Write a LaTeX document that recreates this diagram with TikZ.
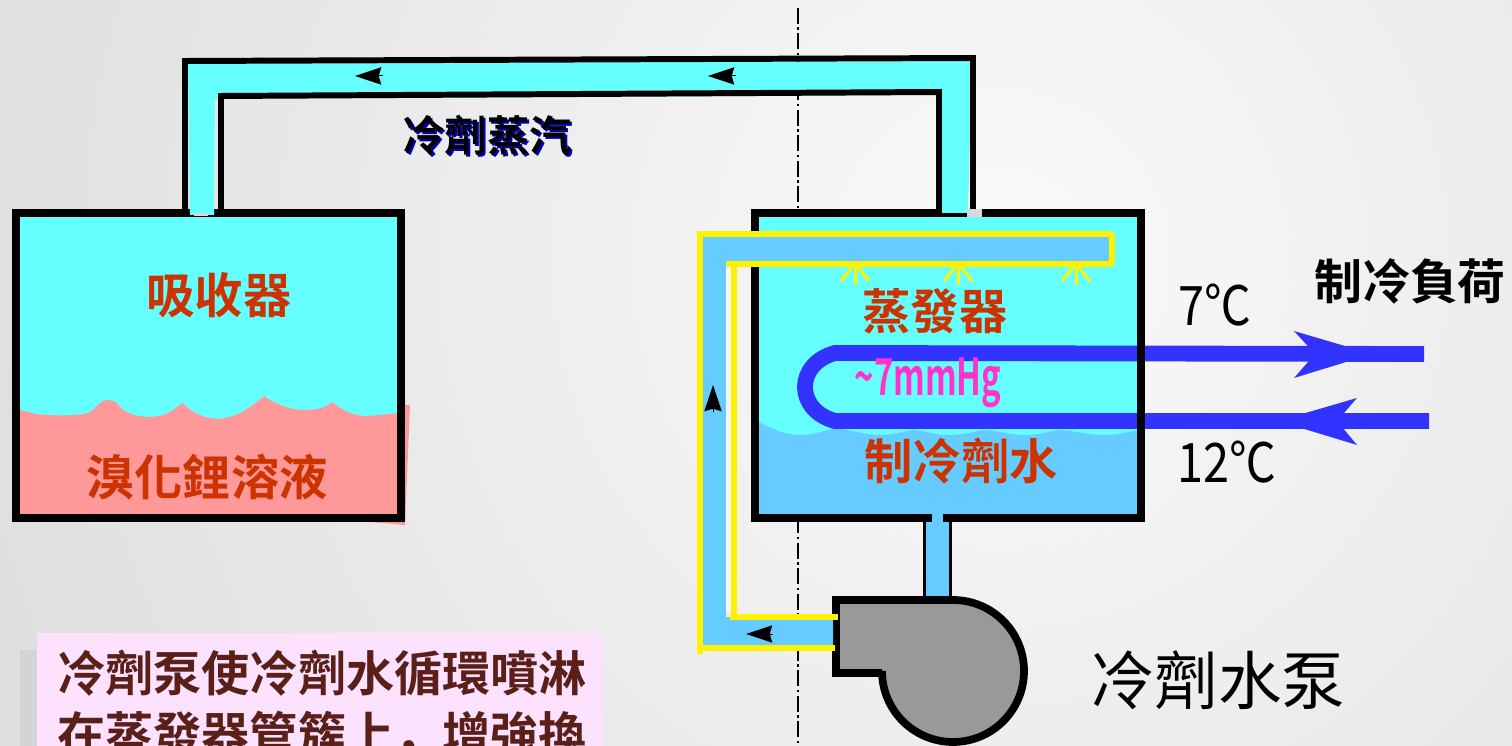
\documentclass[tikz,border=0pt]{standalone}
\usepackage{graphicx}
\usepackage{fontspec}
\setmainfont{Noto Sans CJK TC}[BoldFont={Noto Sans CJK TC Bold}]
\newfontfamily\punctfont{Noto Sans CJK SC Bold}
\usetikzlibrary{arrows.meta}
\definecolor{vaporcyan}{RGB}{102,255,255}
\definecolor{waterblue}{RGB}{102,204,255}
\definecolor{saltpink}{RGB}{255,153,153}
\definecolor{coilblue}{RGB}{51,51,255}
\definecolor{labelred}{RGB}{204,51,0}
\definecolor{notepink}{RGB}{252,226,255}
\definecolor{notebrown}{RGB}{90,32,24}
\definecolor{hgpink}{RGB}{255,51,204}
\tikzset{
  wall/.style={line width=4.4pt,draw=black,line join=miter},
  pipeline/.style={line width=3.4pt,draw=black},
  sprayline/.style={line width=3.4pt,draw=yellow},
  spraytip/.style={line width=1.7pt,draw=yellow},
  coilline/.style={line width=9pt,draw=coilblue},
  flowtip/.style={line width=0pt,-{Stealth[length=15pt,width=10pt,inset=1.5pt]}},
  coiltip/.style={fill=coilblue,draw=none},
  biglabel/.style={font=\fontsize{27.5}{27.5}\selectfont\bfseries,text=labelred,inner sep=0pt},
  notetext/.style={font=\fontsize{27.4}{27.4}\selectfont\bfseries,text=notebrown,inner sep=0pt,anchor=west}
}
\begin{document}
\begin{tikzpicture}[x=0.02cm,y=-0.02cm]
    \useasboundingbox (0,0) rectangle (1512,746);
    \clip (0,0) rectangle (1512,746);
    % background
    \fill[gray!15] (0,0) rectangle (1512,746);
    \shade[inner color=black!2,outer color=black!14] (1000,260) circle (1200);
    \draw[line width=0.9pt,dash pattern=on 9pt off 2pt on 1.5pt off 2pt] (798,8) -- (798,746);
    % absorber
    \fill[saltpink] (370,522) -- (405,525) -- (410,405) -- (400,405) -- cycle;
    \fill[vaporcyan] (16,213) rectangle (401,518);
    \fill[saltpink] (16,409) -- (36,414) .. controls (60,416) and (80,416) .. (91,412)
        .. controls (97,406) and (102,400) .. (107,400) .. controls (112,400) and (116,402) .. (117,403)
        .. controls (122,410) and (128,416) .. (150,417) .. controls (170,416) and (175,408) .. (182,403)
        .. controls (190,410) and (200,418) .. (219,419) .. controls (240,416) and (250,408) .. (264,396)
        .. controls (275,404) and (290,410) .. (304,410) .. controls (320,410) and (328,406) .. (332,402)
        .. controls (345,412) and (355,416) .. (368,416) -- (401,413) -- (401,518) -- (16,518) -- cycle;
    \draw[wall] (16,213) rectangle (401,518);
    % vapour pipe
    \fill[vaporcyan] (188,64) -- (972,61) -- (968,213) -- (942,213) -- (942,95) -- (215,99) -- (214,215) -- (190,215) -- cycle;
    \fill[gray!30] (194,213) rectangle (208,216);
    \coordinate (pipeA) at (185,212);
    \coordinate (pipeB) at (185,61);
    \coordinate (pipeC) at (973,58);
    \coordinate (pipeD) at (973,209);
    \coordinate (pipeE) at (221,212);
    \coordinate (pipeF) at (221,96);
    \coordinate (pipeG) at (939,92);
    \coordinate (pipeH) at (939,212);
    \draw[pipeline,line join=miter] (pipeA) -- (pipeB) -- (pipeC) -- (pipeD);
    \draw[pipeline,line join=miter] (pipeE) -- (pipeF) -- (pipeG) -- (pipeH);
    % evaporator
    \fill[vaporcyan] (755,213) rectangle (1141,518);
    \fill[waterblue] (755,420) .. controls (770,428) and (785,435) .. (800,435)
        .. controls (815,435) and (825,430) .. (837,428) .. controls (850,430) and (865,435) .. (880,435)
        .. controls (895,435) and (905,431) .. (913,430) .. controls (925,431) and (935,435) .. (947,435)
        .. controls (965,435) and (975,431) .. (985,430) .. controls (1000,431) and (1010,435) .. (1025,435)
        .. controls (1040,435) and (1050,431) .. (1060,430) .. controls (1075,431) and (1090,435) .. (1105,435)
        .. controls (1120,435) and (1130,431) .. (1141,430) -- (1141,518) -- (755,518) -- cycle;
    \coordinate (coilTop) at (1424,354);
    \coordinate (coilBot) at (1429,421);
    \draw[coilline] (coilTop) -- (835,353) .. controls (795,364) and (795,410) .. (835,421) -- (coilBot);
    \draw[wall] (755,213) rectangle (1141,518);
    \fill[vaporcyan] (942,205) rectangle (968,213);
    \fill[gray!30] (967,209) rectangle (982,217);
    \fill[waterblue] (932,512) rectangle (943,524);
    % coil arrow heads
    \fill[coiltip] (1372,354) -- (1294,331) -- (1315,354) -- (1294,378) -- cycle;
    \fill[coiltip] (1278,421) -- (1357,398) -- (1337,421) -- (1357,445) -- cycle;
    % pump
    \fill[waterblue] (925,522) rectangle (950,597);
    \draw[line width=1.7pt] (924,522) -- (924,597);
    \draw[line width=1.7pt] (950,522) -- (950,597);
    \draw[line width=4.4pt,fill=black!40] (836,600) -- (953,600) arc (-90:180:71) -- (882,673) -- (836,673) -- cycle;
    % spray pipe
    \fill[waterblue] (700,234) -- (1111,234) -- (1111,264) -- (726,264) -- (726,617) -- (833,620) -- (833,648) -- (700,648) -- cycle;
    \fill[black!3] (726,268) rectangle (731,612);
    \coordinate (sprayA) at (700,654);
    \coordinate (sprayB) at (700,234);
    \coordinate (sprayC) at (1113,234);
    \coordinate (sprayD) at (1112,264);
    \coordinate (sprayE) at (726,264);
    \coordinate (sprayF) at (734,264);
    \coordinate (sprayG) at (734,617);
    \draw[sprayline] (sprayA) -- (sprayB) -- (sprayC);
    \draw[sprayline] (1112,234) -- (sprayD);
    \draw[sprayline] (1113,264) -- (sprayE);
    \draw[sprayline] (sprayF) -- (sprayG);
    \draw[sprayline] (730,617) -- (838,617);
    \draw[sprayline] (700,648) -- (835,648);
    \foreach \sprayx in {855,958,1076}{
        \draw[spraytip] (\sprayx,267) -- (\sprayx,285);
        \draw[spraytip] (\sprayx-3,267) -- (\sprayx-14,281);
        \draw[spraytip] (\sprayx+3,267) -- (\sprayx+14,281);
    }
    % flow arrows
    \foreach \tipfrom/\tipto in {382/355,735/708}{
        \draw[flowtip] (\tipfrom,76) -- (\tipto,76);
    }
    \draw[flowtip] (713,412) -- (713,385);
    \draw[flowtip] (772,634) -- (746,634);
    % note box
    \fill[black!17] (20,650) rectangle (40,746);
    \fill[notepink] (37,633) rectangle (603,746);
    \node[notetext](note1) at (57,673) {冷劑泵使冷劑水循環噴淋};
    \node[notetext](note2) at (57,736) {在蒸發器管簇上{\punctfont ，}增強換};
    % labels
    \node[biglabel](absorber) at (219,295) {吸收器};
    \node[biglabel](solution) at (207,477) {溴化鋰溶液};
    \node[biglabel](evaporator) at (935,311) {蒸發器};
    \node[biglabel](waterlabel) at (961,461) {制冷劑水};
    \node[inner sep=0pt,text=hgpink,font=\fontsize{29}{29}\selectfont\bfseries](pressure) at (928,383) {\scalebox{0.645}[1]{\textasciitilde7mmHg}};
    \node[inner sep=0pt,text=blue!75!black,font=\fontsize{24}{24}\selectfont\bfseries](vaporshade) at (489,137) {冷劑蒸汽};
    \node[inner sep=0pt,font=\fontsize{24}{24}\selectfont\bfseries](vapor) at (487,135) {冷劑蒸汽};
    \node[inner sep=0pt,font=\fontsize{27.3}{27.3}\selectfont\bfseries](load) at (1410,281) {制冷負荷};
    \node[inner sep=0pt,font=\fontsize{31}{31}\selectfont](temp7) at (1215,305) {\scalebox{0.86}[1]{7℃}};
    \node[inner sep=0pt,font=\fontsize{31}{31}\selectfont](temp12) at (1227,462) {\scalebox{0.86}[1]{12℃}};
    \node[inner sep=0pt,font=\fontsize{36.2}{36.2}\selectfont](pumplabel) at (1218,680) {冷劑水泵};
\end{tikzpicture}
\end{document}
